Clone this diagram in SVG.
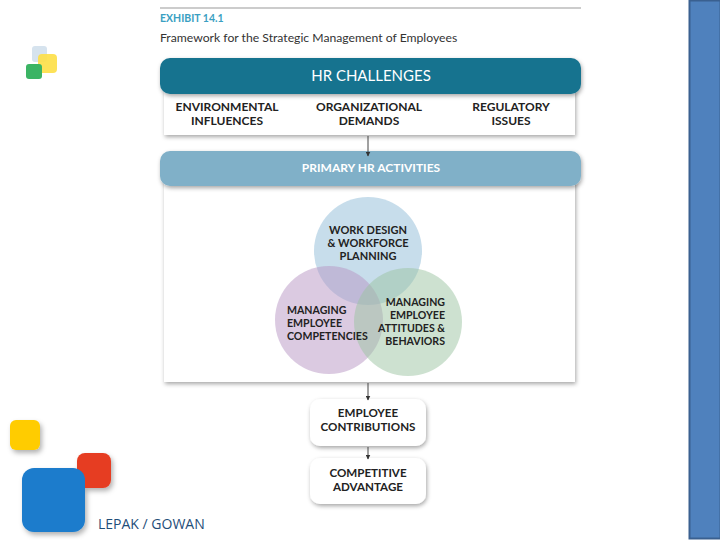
<svg xmlns="http://www.w3.org/2000/svg" width="720" height="540" viewBox="0 0 720 540">
<defs>
<filter id="sh" x="-10%" y="-20%" width="120%" height="150%">
<feDropShadow dx="1" dy="2" stdDeviation="2" flood-color="#000" flood-opacity="0.35"/>
</filter>
<filter id="sh2" x="-20%" y="-20%" width="150%" height="150%">
<feDropShadow dx="2" dy="3" stdDeviation="2.5" flood-color="#000" flood-opacity="0.3"/>
</filter>
<marker id="ah" viewBox="0 0 10 10" refX="9" refY="5" markerWidth="5" markerHeight="5" orient="auto">
<path d="M0,0 L10,5 L0,10 z" fill="#333"/>
</marker>
</defs>
<style>
.t{font-family:Lato,"Open Sans","Liberation Sans",sans-serif;font-weight:bold;fill:#222;font-size:11px}
.b{font-size:12px}
.s{font-size:11.6px}
.v{font-size:10.6px}
.c{text-anchor:middle}
.w{fill:#fff}
.box{fill:#fff;filter:url(#sh)}
.conn{stroke:#444;stroke-width:1;fill:none;marker-end:url(#ah)}
</style>
<rect width="720" height="540" fill="#fff"/>
<!-- side bar -->
<rect x="689.5" y="0.5" width="31" height="538" fill="#4f81bd" stroke="#3a6090" stroke-width="2"/>
<!-- top logo -->
<g id="logo-top">
<rect x="32" y="46" width="15" height="16" rx="3" fill="#d6e3ee"/>
<rect x="38" y="54" width="19" height="19" rx="4" fill="#fde04a" opacity="0.92"/>
<rect x="26" y="64" width="16" height="15" rx="3" fill="#3bb464"/>
</g>
<!-- bottom logo -->
<g id="logo-bottom" filter="url(#sh2)">
<rect x="10" y="420" width="30" height="30" rx="6" fill="#ffcc00"/>
<rect x="77" y="453" width="34" height="35" rx="8" fill="#e63e22"/>
<rect x="22" y="468" width="63" height="64" rx="12" fill="#1c7ccc"/>
</g>
<text x="98" y="529" style="font-family:'Open Sans','Liberation Sans',sans-serif;font-size:14px;fill:#1f4e79">LEPAK / GOWAN</text>
<!-- header -->
<line x1="160" y1="8" x2="581" y2="8" stroke="#cccccc" stroke-width="2"/>
<text x="160" y="22" class="t" style="fill:#3a9fc2;font-size:10.5px">EXHIBIT 14.1</text>
<text x="160" y="42" style="font-family:Lato,'Open Sans','Liberation Sans',sans-serif;font-size:12.2px;fill:#333">Framework for the Strategic Management of Employees</text>

<g id="challenges-detail">
<rect x="164" y="90" width="411" height="45" class="box"/>
<text x="227" y="111" class="t b c">ENVIRONMENTAL</text>
<text x="227" y="125" class="t b c">INFLUENCES</text>
<text x="369" y="111" class="t b c">ORGANIZATIONAL</text>
<text x="369" y="125" class="t b c">DEMANDS</text>
<text x="511" y="111" class="t b c">REGULATORY</text>
<text x="511" y="125" class="t b c">ISSUES</text>
</g>
<g id="hr-challenges">
<rect x="160" y="58" width="421" height="36" rx="10" fill="#17738f" filter="url(#sh)"/>
<text x="371" y="81" class="t c w" style="font-weight:normal;font-size:15px">HR CHALLENGES</text>
</g>

<g id="activities-box">
<rect x="164" y="180" width="411" height="202" class="box"/>
</g>
<g id="primary-hr">
<rect x="160" y="151" width="421" height="35" rx="10" fill="#80b0c8" filter="url(#sh)"/>
<text x="371" y="172" class="t c w" style="font-size:12px">PRIMARY HR ACTIVITIES</text>
</g>

<g id="venn">
<circle cx="368" cy="251" r="54" fill="#a9cbe0" opacity="0.65"/>
<circle cx="329" cy="320" r="54" fill="#b796c4" opacity="0.5"/>
<circle cx="408" cy="322" r="54" fill="#9cc4a2" opacity="0.5"/>
</g>
<g id="work-design">
<text x="368" y="234" class="t c">WORK DESIGN</text>
<text x="368" y="247" class="t c">&amp; WORKFORCE</text>
<text x="368" y="260" class="t c">PLANNING</text>
</g>
<g id="competencies">
<text x="287" y="314" class="t v">MANAGING</text>
<text x="287" y="327" class="t v">EMPLOYEE</text>
<text x="287" y="340" class="t v">COMPETENCIES</text>
</g>
<g id="attitudes">
<text x="445" y="306" class="t v" text-anchor="end">MANAGING</text>
<text x="445" y="319" class="t v" text-anchor="end">EMPLOYEE</text>
<text x="445" y="332" class="t v" text-anchor="end">ATTITUDES &amp;</text>
<text x="445" y="345" class="t v" text-anchor="end">BEHAVIORS</text>
</g>

<g id="contributions">
<rect x="310" y="399" width="116" height="47" rx="10" class="box"/>
<text x="368" y="417" class="t s c">EMPLOYEE</text>
<text x="368" y="431" class="t s c">CONTRIBUTIONS</text>
</g>
<g id="advantage">
<rect x="310" y="458" width="116" height="46" rx="10" class="box"/>
<text x="368" y="477" class="t s c">COMPETITIVE</text>
<text x="368" y="491" class="t s c">ADVANTAGE</text>
</g>

<g id="connectors">
<line x1="368" y1="136" x2="368" y2="156" class="conn"/>
<line x1="368" y1="383" x2="368" y2="400" class="conn"/>
<line x1="368" y1="447" x2="368" y2="459" class="conn"/>
</g>
</svg>
